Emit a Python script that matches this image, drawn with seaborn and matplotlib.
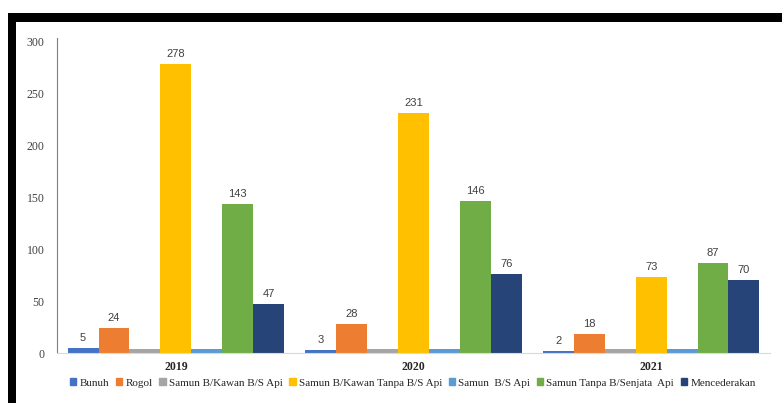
import numpy as np
import pandas as pd
import matplotlib.pyplot as plt
import matplotlib.patches as mpatches
import seaborn as sns

# Data
years = ["2019", "2020", "2021"]
categories = ["Bunuh", "Rogol", "Samun B/Kawan B/S Api", "Samun B/Kawan Tanpa B/S Api",
              "Samun  B/S Api", "Samun Tanpa B/Senjata  Api", "Mencederakan"]
bunuh = [5, 3, 2]
rogol = [24, 28, 18]
samun_kawan_api = [4, 4, 4]
samun_kawan_tanpa = [278, 231, 73]
samun_api = [4, 4, 4]
samun_tanpa_senjata = [143, 146, 87]
mencederakan = [47, 76, 70]
show_label = [True, True, False, True, False, True, True]

colors = ["#4472C4", "#ED7D31", "#A5A5A5", "#FFC000", "#5B9BD5", "#70AD47", "#264478"]

series = [bunuh, rogol, samun_kawan_api, samun_kawan_tanpa, samun_api, samun_tanpa_senjata, mencederakan]
rows = []
for cat, vals in zip(categories, series):
    for yr, v in zip(years, vals):
        rows.append({"year": yr, "category": cat, "value": v})
df = pd.DataFrame(rows)

sns.set_style("white")
fig = plt.figure(figsize=(7.82, 4.03), dpi=100)
ax = fig.add_axes([57 / 782, 1 - 353 / 403, 713 / 782, 312 / 403])

sns.barplot(data=df, x="year", y="value", hue="category", hue_order=categories,
            palette=colors, saturation=1, width=0.91, gap=0, linewidth=0, ax=ax, legend=False)

# value labels
for i, cont in enumerate(ax.containers):
    if not show_label[i]:
        continue
    for bar in cont:
        h = bar.get_height()
        ax.annotate(f"{int(h)}", (bar.get_x() + bar.get_width() / 2, h),
                    xytext=(0, 3.5), textcoords="offset points", ha="center", va="bottom",
                    fontsize=8, color="#404040", family="Liberation Sans")

ax.set_xlim(-0.5, 2.5)
ax.set_ylim(0, 300)
ax.set_yticks([0, 50, 100, 150, 200, 250, 300])
ax.set_xlabel("")
ax.set_ylabel("")
ax.tick_params(axis="y", length=0, pad=9, labelsize=8.5, labelcolor="#404040")
ax.tick_params(axis="x", length=0, pad=6, labelsize=8.5)
for lab in ax.get_yticklabels():
    lab.set_family("Liberation Serif")
for lab in ax.get_xticklabels():
    lab.set_family("Liberation Serif")
    lab.set_fontweight("bold")

for s in ["top", "right"]:
    ax.spines[s].set_visible(False)
ax.spines["left"].set_color("#7f7f7f")
ax.spines["left"].set_linewidth(0.8)
ax.spines["left"].set_bounds(0, 303)
ax.spines["bottom"].set_color("#d9d9d9")
ax.spines["bottom"].set_linewidth(0.8)

handles = [mpatches.Patch(color=c, label=l) for c, l in zip(colors, categories)]
fig.legend(handles=handles, loc="center", bbox_to_anchor=(413 / 782, 1 - 383 / 403), ncol=7,
           frameon=False, prop={"family": "Liberation Serif", "size": 8},
           handlelength=0.55, handleheight=0.55, handletextpad=0.3, columnspacing=0.6)

# black frame (top and left edge)
fig.add_artist(mpatches.Rectangle((0.0102, 0.945), 1.0, 0.023, transform=fig.transFigure,
                                  facecolor="black", edgecolor="none", zorder=11))
fig.add_artist(mpatches.Rectangle((0.0102, 0.0), 0.0102, 0.968, transform=fig.transFigure,
                                  facecolor="black", edgecolor="none", zorder=11))

fig.savefig("out.png", dpi=100)
